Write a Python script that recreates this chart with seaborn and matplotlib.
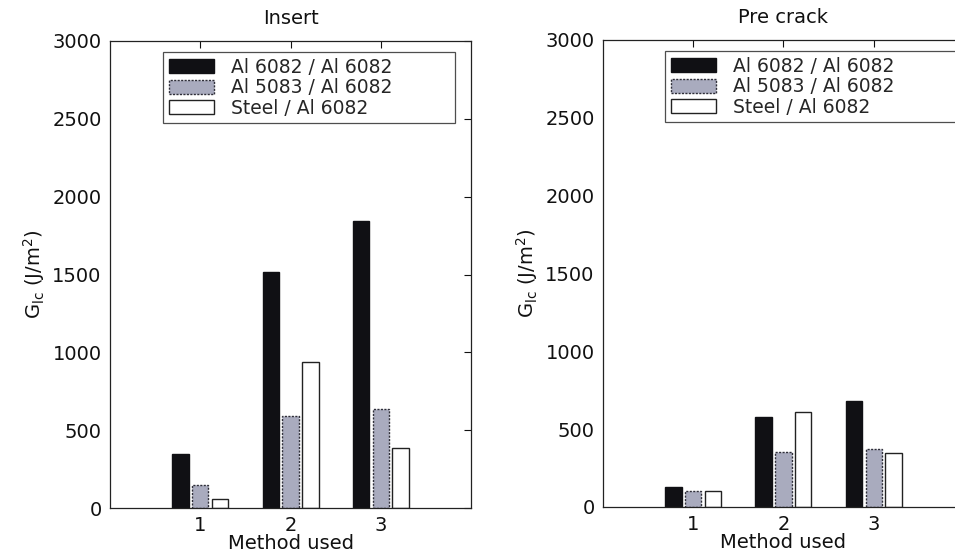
import matplotlib
matplotlib.use("Agg")
import matplotlib.pyplot as plt
import seaborn as sns
import pandas as pd

methods = [1, 2, 3]
series = ["Al 6082 / Al 6082", "Al 5083 / Al 6082", "Steel / Al 6082"]

insert_6082 = [350, 1515, 1845]
insert_5083 = [150, 593, 638]
insert_steel = [60, 937, 385]

precrack_6082 = [128, 575, 680]
precrack_5083 = [105, 350, 372]
precrack_steel = [103, 608, 348]

yticks = [0, 500, 1000, 1500, 2000, 2500, 3000]

sns.set_theme(style="white")
plt.rcParams["font.family"] = ["DejaVu Sans"]
plt.rcParams["mathtext.fontset"] = "dejavusans"

fills = ["#101014", "#a9abbe", "#ffffff"]
edges = ["#101014", "#2e2e38", "#222222"]
styles = ["-", (0, (1.5, 1)), "-"]


def make_frame(a, b, c):
    rows = []
    for vals, name in zip((a, b, c), series):
        for m, v in zip(methods, vals):
            rows.append({"method": m, "series": name, "G": v})
    return pd.DataFrame(rows)


def style_patch(p, i):
    p.set_facecolor(fills[i])
    p.set_edgecolor(edges[i])
    p.set_linewidth(1.0)
    p.set_linestyle(styles[i])


def draw(ax, df, title, leg_x0):
    sns.barplot(data=df, x="method", y="G", hue="series", hue_order=series,
                palette=fills, native_scale=True, width=0.66, gap=0.18,
                saturation=1, errorbar=None, ax=ax)
    for i, cont in enumerate(ax.containers):
        for bar in cont:
            style_patch(bar, i)
    ax.set_xlim(0, 4)
    ax.set_ylim(0, 3000)
    ax.set_xticks(methods)
    ax.set_xticklabels([str(m) for m in methods])
    ax.set_yticks(yticks)
    ax.set_yticklabels([str(t) for t in yticks])
    ax.tick_params(direction="in", length=5, width=0.8, top=True, right=True,
                   labelsize=14, colors="#111111", pad=6)
    for s in ax.spines.values():
        s.set_visible(True)
        s.set_color("#222222")
        s.set_linewidth(0.9)
    ax.set_title(title, fontsize=14, pad=12, color="#111111")
    ax.set_xlabel("Method used", fontsize=14, labelpad=-1, color="#111111")
    ax.set_ylabel(r"G$_{\mathregular{lc}}$ (J/m$^{\mathregular{2}}$)",
                  fontsize=14, labelpad=4, color="#111111")
    handles, labels = ax.get_legend_handles_labels()
    leg = ax.legend(handles, labels, loc="upper left", mode="expand",
                    bbox_to_anchor=(leg_x0, 0.0, 0.809, 0.976),
                    borderaxespad=0, fontsize=13.5, frameon=True,
                    fancybox=False, edgecolor="#222222",
                    handlelength=2.4, handleheight=0.8, handletextpad=0.9,
                    borderpad=0.3, labelspacing=0.08)
    leg.get_frame().set_linewidth(0.9)
    for i, h in enumerate(leg.legend_handles):
        style_patch(h, i)


fig = plt.figure(figsize=(9.55, 5.54), dpi=100)
ax1 = fig.add_axes([0.1152, 0.083, 0.378, 0.843])
ax2 = fig.add_axes([0.6314, 0.085, 0.378, 0.843])

draw(ax1, make_frame(insert_6082, insert_5083, insert_steel), "Insert", 0.147)
draw(ax2, make_frame(precrack_6082, precrack_5083, precrack_steel),
     "Pre crack", 0.172)

fig.savefig("out.png", dpi=100, facecolor="white")
